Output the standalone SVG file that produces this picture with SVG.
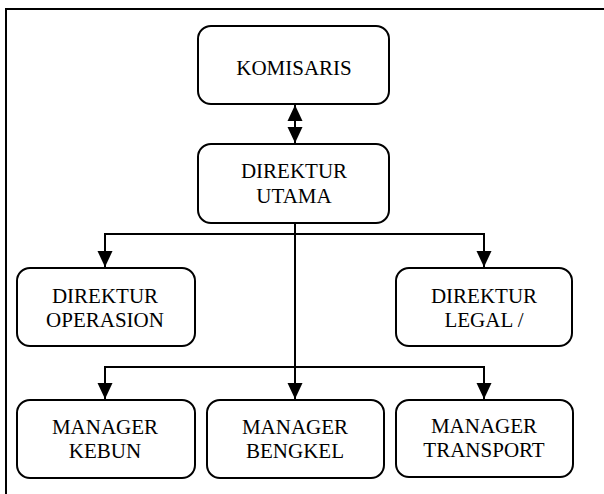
<svg xmlns="http://www.w3.org/2000/svg" width="604" height="494" viewBox="0 0 604 494">
<style>
.box{fill:#fff;stroke:#000;stroke-width:2}
.lbl{font-family:'Liberation Serif','DejaVu Serif',serif;font-size:21px;fill:#000;text-anchor:middle}
.con{fill:none;stroke:#000;stroke-width:2}
</style>
<defs>
<marker id="ah" markerUnits="userSpaceOnUse" markerWidth="16" markerHeight="16" refX="16" refY="8" orient="auto-start-reverse">
<path d="M0,0.5 L16,8 L0,15.5 z" fill="#000"/>
</marker>
</defs>
<rect width="604" height="494" fill="#fff"/>
<path d="M6,494 V9 H604" fill="none" stroke="#000" stroke-width="2"/>
<g id="connectors">
<line class="con" x1="295" y1="105" x2="295" y2="143" marker-start="url(#ah)" marker-end="url(#ah)"/>
<path class="con" d="M295,223 V399" marker-end="url(#ah)"/>
<path class="con" d="M296,234 H105 V267" marker-end="url(#ah)"/>
<path class="con" d="M294,234 H484 V267" marker-end="url(#ah)"/>
<path class="con" d="M484,367 H105 V399" marker-end="url(#ah)"/>
<path class="con" d="M105,367 H484 V399" marker-end="url(#ah)"/>
</g>
<g id="komisaris">
<rect class="box" x="198" y="26" width="191" height="78" rx="13"/>
<text class="lbl" x="294" y="75">KOMISARIS</text>
</g>
<g id="direktur-utama">
<rect class="box" x="198" y="144" width="191" height="79" rx="13"/>
<text class="lbl" x="294" y="178">DIREKTUR</text>
<text class="lbl" x="294" y="203">UTAMA</text>
</g>
<g id="direktur-operasion">
<rect class="box" x="17" y="268" width="178" height="78" rx="13"/>
<text class="lbl" x="105" y="303">DIREKTUR</text>
<text class="lbl" x="105" y="327">OPERASION</text>
</g>
<g id="direktur-legal">
<rect class="box" x="396" y="268" width="176" height="78" rx="13"/>
<text class="lbl" x="484" y="303">DIREKTUR</text>
<text class="lbl" x="484" y="327">LEGAL /</text>
</g>
<g id="manager-kebun">
<rect class="box" x="17" y="400" width="178" height="78" rx="13"/>
<text class="lbl" x="105" y="434">MANAGER</text>
<text class="lbl" x="105" y="458">KEBUN</text>
</g>
<g id="manager-bengkel">
<rect class="box" x="207" y="400" width="177" height="78" rx="13"/>
<text class="lbl" x="295" y="434">MANAGER</text>
<text class="lbl" x="295" y="458">BENGKEL</text>
</g>
<g id="manager-transport">
<rect class="box" x="396" y="400" width="177" height="77" rx="13"/>
<text class="lbl" x="484" y="433">MANAGER</text>
<text class="lbl" x="484" y="457">TRANSPORT</text>
</g>
</svg>
